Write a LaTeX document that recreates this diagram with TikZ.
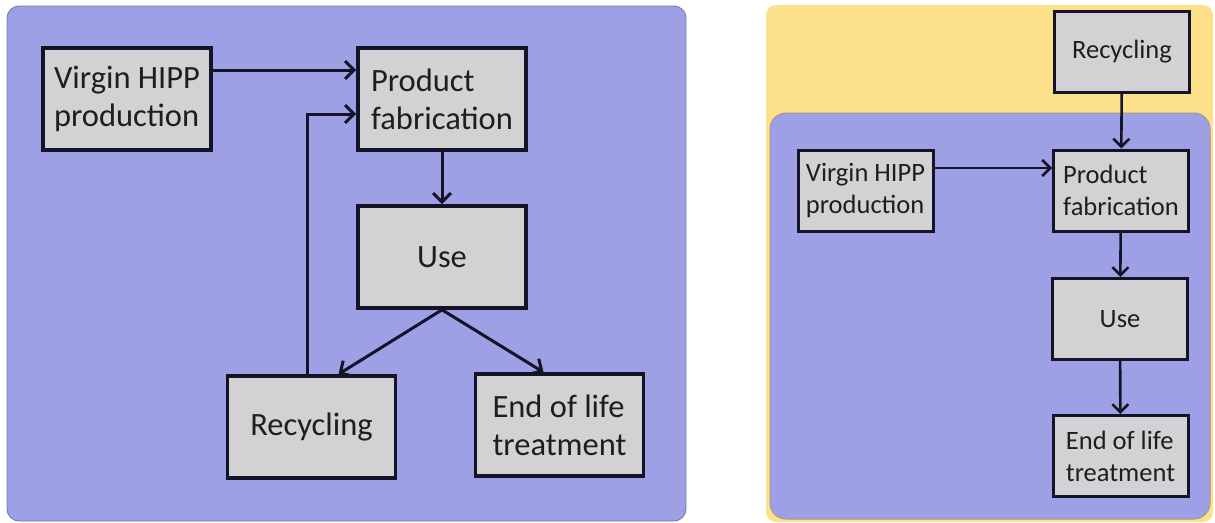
\documentclass[tikz,border=0pt]{standalone}
\usepackage{fontspec}
\setmainfont{Carlito}
\usetikzlibrary{arrows.meta, positioning}

\definecolor{panelblue}{RGB}{157,160,228}
\definecolor{paneledge}{RGB}{120,120,150}
\definecolor{boxgray}{RGB}{210,210,212}
\definecolor{boxedge}{RGB}{20,20,38}
\definecolor{sandy}{RGB}{252,225,138}
\definecolor{textgray}{RGB}{30,30,30}

\begin{document}
\begin{tikzpicture}[
    x=1pt, y=-1pt,
    bigbox/.style={rectangle, draw=boxedge, line width=3.6pt, fill=boxgray, text=textgray,
                   minimum width=168pt, minimum height=102pt, align=left, inner sep=0pt,
                   font=\fontsize{32.5}{38}\selectfont},
    smallbox/.style={rectangle, draw=boxedge, line width=3pt, fill=boxgray, text=textgray,
                     minimum width=135pt, minimum height=81pt, align=left, inner sep=0pt,
                     font=\fontsize{26.5}{32}\selectfont},
    arr/.style={-{Straight Barb[length=9pt, width=18pt, line width=3pt]}, line width=3pt, draw=boxedge},
    sarr/.style={-{Straight Barb[length=8pt, width=16pt, line width=2.6pt]}, line width=2.6pt, draw=boxedge},
]

\useasboundingbox (0,0) rectangle (1215,522);

% Panels
\fill[white] (0,0) rectangle (1215,522);
\draw[fill=panelblue, draw=paneledge, line width=0.8pt, rounded corners=12pt] (7,6) rectangle (686,521);
\fill[sandy, rounded corners=10pt] (766,5) rectangle (1213,522);
\draw[fill=panelblue, draw=paneledge!70!sandy, line width=1pt, rounded corners=16pt] (770,113) rectangle (1210,519);

% Left: loop with recycling inside
\node[bigbox] (vir) at (127,99) {Virgin HIPP\\production};
\node[bigbox] (fab) at (442,99) {Product\\fabrication};
\node[bigbox] (use) at (442,257) {Use};
\node[bigbox] (rec) at (311.5,427) {Recycling};
\node[bigbox] (eol) at (559.5,425) {End of life\\treatment};

\draw[arr] ([yshift=29pt]vir.east) -- ([yshift=29pt]fab.west);
\draw[arr] ([xshift=-4pt]rec.north) |- ([yshift=-15pt]fab.west);
\draw[arr] (fab) -- (use);
\draw[arr] (use.south) -- ([xshift=27pt]rec.north);
\draw[arr] (use.south) -- ([xshift=-16pt]eol.north);

% Right: recycling outside the system
\node[smallbox] (rrec) at (1122,52) {Recycling};
\node[smallbox] (rfab) at (1121,190.5) {Product\\fabrication};
\node[smallbox] (rvir) at (865.5,191) {Virgin HIPP\\production};
\node[smallbox] (ruse) at (1120,319) {Use};
\node[smallbox] (reol) at (1120.5,456) {End of life\\treatment};

\draw[sarr] (rrec) -- (rfab);
\draw[sarr] ([yshift=23pt]rvir.east) -- ([yshift=23pt]rvir.east -| rfab.west);
\draw[sarr] (rfab) -- (ruse);
\draw[sarr] (ruse) -- (reol);

\end{tikzpicture}
\end{document}
